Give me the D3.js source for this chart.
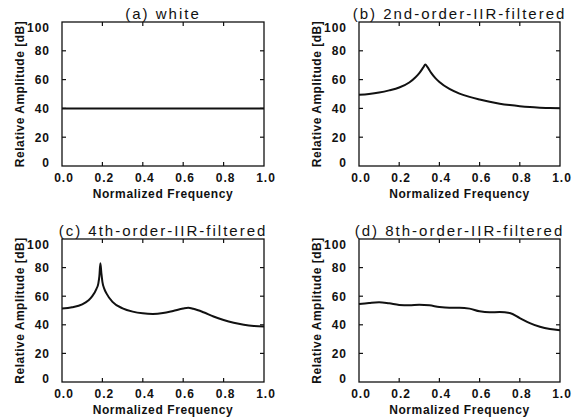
<!DOCTYPE html>
<html>
<head>
<meta charset="utf-8">
<script src="https://cdn.jsdelivr.net/npm/d3@7"></script>
<style>
body{margin:0;background:#fff;}
svg{display:block;}
.tick-lab{font-family:"Liberation Sans",Arial,sans-serif;font-weight:bold;font-size:12px;letter-spacing:1px;fill:#111;}
.ax-title{font-family:"Liberation Sans",Arial,sans-serif;font-weight:bold;font-size:12px;fill:#111;}
.p-title{font-family:"Liberation Sans",Arial,sans-serif;font-size:15px;letter-spacing:2px;fill:#111;}
</style>
</head>
<body>
<svg width="583" height="420"></svg>
<script>
// values
var xTicks=[0,0.2,0.4,0.6,0.8,1.0];
var yTicks=[0,20,40,60,80,100];
var titles=["(a) white","(b) 2nd-order-IIR-filtered","(c) 4th-order-IIR-filtered","(d) 8th-order-IIR-filtered"];

var freqA=[0,0.25,0.5,0.75,1.0];
var ampA=[40,40,40,40,40];

var freqB=[0,0.05,0.1,0.15,0.2,0.25,0.28,0.3,0.32,0.33,0.34,0.36,0.38,0.4,0.45,0.5,0.55,0.6,0.65,0.7,0.75,0.8,0.85,0.9,0.95,1.0];
var ampB=[49.4,50,51,52.5,54.5,58,61.5,64.5,68.5,70.5,68.8,64.5,61,58.3,53.5,50.3,48,46.2,44.6,43.3,42.3,41.5,40.9,40.5,40.2,40.1];

var freqC=[0,0.05,0.1,0.13,0.15,0.17,0.18,0.185,0.19,0.195,0.2,0.21,0.22,0.25,0.3,0.35,0.4,0.45,0.5,0.55,0.6,0.625,0.65,0.7,0.75,0.8,0.85,0.9,0.95,1.0];
var ampC=[51.4,52.3,54.3,57,60,65,69,74,83,76,70,65,62,56,51.5,49.2,48,47.6,48.2,49.7,51.4,51.9,51.2,48.8,45.8,43.4,41.5,40.1,39.2,38.8];

var freqD=[0,0.05,0.1,0.15,0.2,0.25,0.3,0.35,0.4,0.45,0.5,0.55,0.6,0.65,0.7,0.75,0.8,0.85,0.9,0.95,1.0];
var ampD=[54.6,55.3,55.8,55,53.9,53.6,54,53.6,52.5,52,52,51.3,49.4,48.7,49,48.2,44.7,41.2,38.6,37,36.2];

var freqs=[freqA,freqB,freqC,freqD];
var amps=[ampA,ampB,ampC,ampD];

var svg=d3.select("svg");

// panel frames: [left,right,top,bottom]
var frames=[[62,264,22,166],[359,560,22,166],[62,264,239,382],[359,560,239,382]];

var drawPanel=function(i)
{
var f=frames[i];
var x=d3.scaleLinear().domain([0,1]).range([f[0],f[1]]);
var y=d3.scaleLinear().domain([0,100]).range([f[3],f[2]]);
var g=svg.append("g");
var tl=4;

// inward ticks on all four sides
g.selectAll("line.yt").data(yTicks.slice(1,-1)).enter().append("line")
.attr("x1",f[0]).attr("x2",f[0]+tl)
.attr("y1",function(d){return y(d);}).attr("y2",function(d){return y(d);})
.attr("stroke","#111").attr("stroke-width",1.2);
g.selectAll("line.yt2").data(yTicks.slice(1,-1)).enter().append("line")
.attr("x1",f[1]).attr("x2",f[1]-tl)
.attr("y1",function(d){return y(d);}).attr("y2",function(d){return y(d);})
.attr("stroke","#111").attr("stroke-width",1.2);
g.selectAll("line.xt").data(xTicks.slice(1,-1)).enter().append("line")
.attr("x1",function(d){return x(d);}).attr("x2",function(d){return x(d);})
.attr("y1",f[3]).attr("y2",f[3]-tl)
.attr("stroke","#111").attr("stroke-width",1.2);
g.selectAll("line.xt2").data(xTicks.slice(1,-1)).enter().append("line")
.attr("x1",function(d){return x(d);}).attr("x2",function(d){return x(d);})
.attr("y1",f[2]).attr("y2",f[2]+tl)
.attr("stroke","#111").attr("stroke-width",1.2);

g.append("rect")
.attr("x",f[0]).attr("y",f[2])
.attr("width",f[1]-f[0]).attr("height",f[3]-f[2])
.attr("fill","none").attr("stroke","#111").attr("stroke-width",1.3);

// tick labels
g.selectAll("text.yl").data(yTicks).enter().append("text")
.attr("class","tick-lab")
.attr("text-anchor","end")
.attr("x",f[0]-12)
.attr("y",function(d){return Math.max(f[2]+6,Math.min(f[3]-3.5,y(d)))+4.3;})
.text(function(d){return d;});
g.selectAll("text.xl").data(xTicks).enter().append("text")
.attr("class","tick-lab")
.attr("text-anchor","middle")
.attr("x",function(d){return x(d)+2;})
.attr("y",f[3]+15.5)
.text(function(d){return d3.format(".1f")(d);});

g.append("text").attr("class","ax-title")
.attr("text-anchor","middle")
.style("letter-spacing","0.6px")
.attr("x",(f[0]+f[1])/2).attr("y",f[3]+31.5)
.text("Normalized Frequency");

g.append("text").attr("class","ax-title")
.attr("text-anchor","middle")
.style("letter-spacing","0.5px")
.attr("transform","translate("+(f[0]-38)+","+((f[2]+f[3])/2)+") rotate(-90)")
.text("Relative Amplitude [dB]");

g.append("text").attr("class","p-title")
.attr("text-anchor","middle")
.attr("x",(f[0]+f[1])/2).attr("y",f[2]-3)
.text(titles[i]);

var pts=freqs[i].map(function(d,j){return [d,amps[i][j]];});
var line=d3.line()
.x(function(d){return x(d[0]);})
.y(function(d){return y(d[1]);})
.curve(d3.curveMonotoneX);
g.append("path")
.attr("d",line(pts))
.attr("fill","none").attr("stroke","#111").attr("stroke-width",2);
};

[0,1,2,3].forEach(drawPanel);
</script>
</body>
</html>
